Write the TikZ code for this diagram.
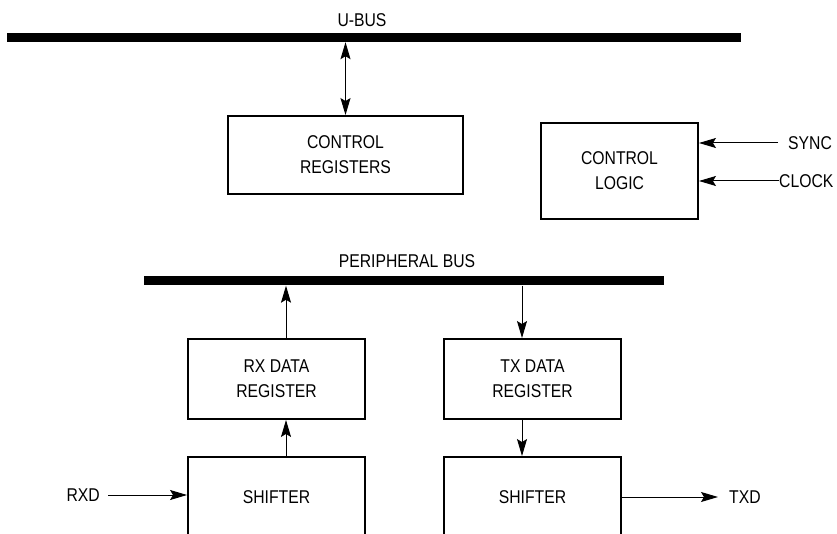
\documentclass[tikz,border=0pt]{standalone}
\usepackage{fontspec}
\setmainfont{Liberation Sans}[FakeStretch=0.85]
\usetikzlibrary{arrows.meta}
\begin{document}
\begin{tikzpicture}[x=1pt,y=-1pt,
  every node/.style={font=\fontsize{18.5}{25}\selectfont},
  blk/.style={draw, line width=1.9pt, inner sep=0pt, align=center},
  busbar/.style={fill=black, inner sep=0pt, minimum height=9pt},
  lbl/.style={inner sep=0pt},
  conn/.style={line width=1pt, -{Stealth[length=17pt,width=10pt,inset=3pt]}},
  dconn/.style={line width=1pt, {Stealth[length=17pt,width=10pt,inset=3pt]}-{Stealth[length=17pt,width=10pt,inset=3pt]}}]
\useasboundingbox (0,0) rectangle (837,534);
\clip (0,0) rectangle (837,534);

% buses
\node[busbar, minimum width=734pt] (ubus) at (373.5,37.5) {};
\node[lbl] (ubuslbl) at (362,20) {U-BUS};
\node[busbar, minimum width=520pt] (pbus) at (404,281) {};
\node[lbl] (pbuslbl) at (407,261) {PERIPHERAL BUS};

% blocks
\node[blk, minimum width=235pt, minimum height=78pt] (creg) at (345.5,155) {CONTROL\\REGISTERS};
\node[blk, minimum width=157pt, minimum height=96pt] (clog) at (619.5,171) {CONTROL\\LOGIC};
\node[blk, minimum width=177pt, minimum height=80pt] (rxreg) at (276.5,379) {RX DATA\\REGISTER};
\node[blk, minimum width=177pt, minimum height=80pt] (txreg) at (532.5,379) {TX DATA\\REGISTER};
\node[blk, minimum width=177pt, minimum height=80pt] (rxsh) at (276.5,497) {SHIFTER};
\node[blk, minimum width=177pt, minimum height=80pt] (txsh) at (532.5,497) {SHIFTER};

% external labels
\node[lbl, anchor=west] (sync) at (788,143) {SYNC};
\node[lbl, anchor=west] (clock) at (779,181) {CLOCK};
\node[lbl, anchor=east] (rxd) at (100,495) {RXD};
\node[lbl, anchor=west] (txd) at (729,497) {TXD};

% connectors
\draw[dconn] (ubus.south -| creg.north) -- (creg.north);
\draw[conn] (sync.west) ++(-10pt,0) -- (clog.east |- sync.west);
\draw[conn] (clock.west) -- (clog.east |- clock.west);
\draw[conn] ([xshift=9.5pt]rxreg.north) -- ([xshift=9.5pt]rxreg.north |- pbus.south);
\draw[conn] ([xshift=-10.5pt]txreg.north |- pbus.south) -- ([xshift=-10.5pt]txreg.north);
\draw[conn] ([xshift=9.5pt]rxsh.north) -- ([xshift=9.5pt]rxreg.south);
\draw[conn] ([xshift=-10.5pt]txreg.south) -- ([xshift=-10.5pt]txsh.north);
\draw[conn] ([xshift=8pt]rxd.east) -- (rxsh.west |- rxd.east);
\draw[conn] (txsh.east |- txd.west) -- ([xshift=-11pt]txd.west);
\end{tikzpicture}
\end{document}
